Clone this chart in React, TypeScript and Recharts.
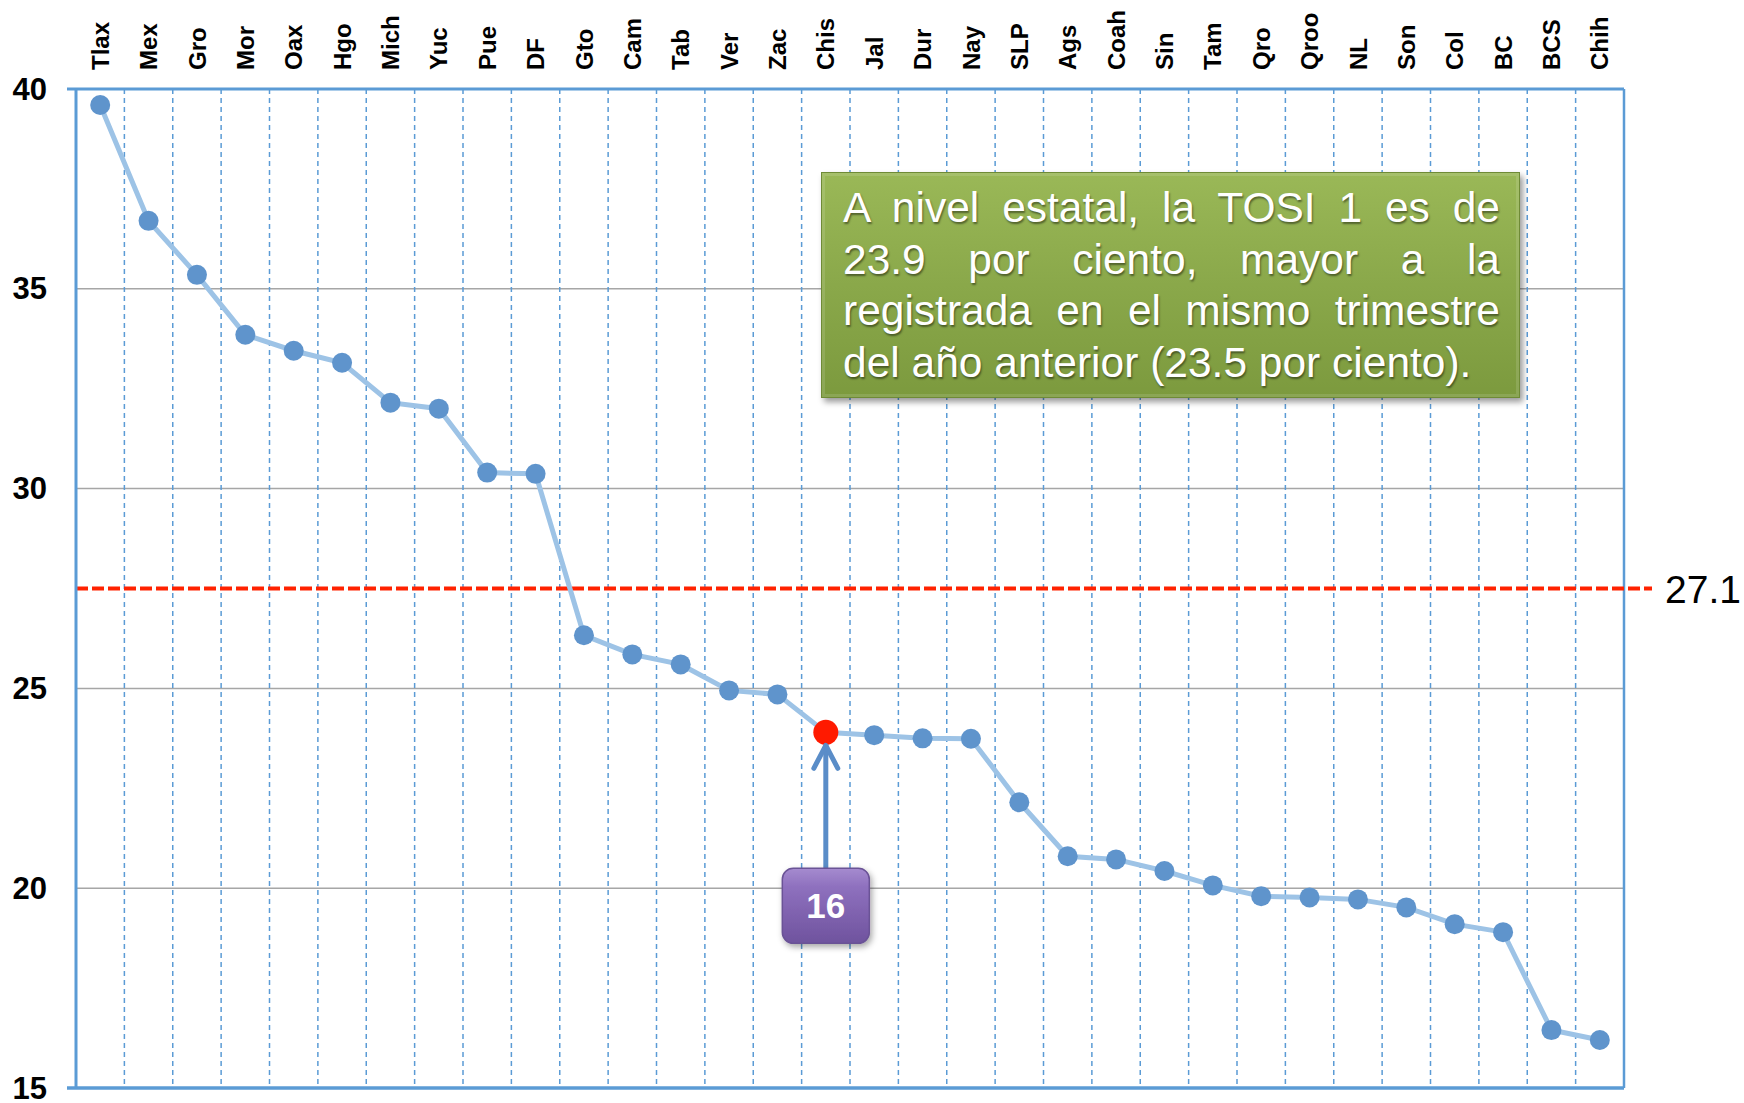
import React from 'react';
import { LineChart, Line, XAxis, YAxis, CartesianGrid, ReferenceLine, ReferenceDot } from 'recharts';

const states = ['Tlax','Mex','Gro','Mor','Oax','Hgo','Mich','Yuc','Pue','DF','Gto','Cam','Tab','Ver','Zac','Chis','Jal','Dur','Nay','SLP','Ags','Coah','Sin','Tam','Qro','Qroo','NL','Son','Col','BC','BCS','Chih'];
const tosiValues = [39.6,36.7,35.35,33.85,33.45,33.15,32.15,32.0,30.4,30.37,26.33,25.85,25.6,24.95,24.85,23.9,23.83,23.75,23.74,22.15,20.8,20.72,20.43,20.07,19.8,19.77,19.72,19.52,19.1,18.9,16.45,16.2];
const avgLineValue = 27.5;
const avgLabel = '27.1';
const yTicks = [15, 20, 25, 30, 35, 40];
const highlightState = 'Chis';
const rankLabel = '16';
const noteLines = [
  'A nivel estatal, la TOSI 1 es de',
  '23.9 por ciento, mayor a la',
  'registrada en el mismo trimestre',
  'del año anterior (23.5 por ciento).',
];

const chartData = states.map((name, i) => ({ pos: i + 0.5, name, value: tosiValues[i] }));
const boundaries = states.slice(1).map((_, i) => i + 1);
const highlight = chartData.find((d) => d.name === highlightState)!;

const BLUE = '#5B9BD5';
const FONT = '"Liberation Sans", Arial, sans-serif';

const XTick = (props: any) => {
  const { x, payload } = props;
  const label = states[Math.floor(payload.value)];
  return (
    <text
      x={0}
      y={0}
      transform={`translate(${x},70) rotate(-90)`}
      textAnchor="start"
      dy="0.36em"
      fontFamily={FONT}
      fontWeight="bold"
      fontSize={24}
      fill="#000"
    >
      {label}
    </text>
  );
};

const YTick = (props: any) => {
  const { y, payload } = props;
  return (
    <text
      x={47}
      y={y}
      dy="0.34em"
      textAnchor="end"
      fontFamily={'"Liberation Sans Narrow", "Liberation Sans", Arial, sans-serif'}
      fontWeight="bold"
      fontSize={31}
      fill="#000"
    >
      {payload.value}
    </text>
  );
};

const renderDot = (props: any) => {
  const { cx, cy, payload, index } = props;
  if (payload.name === highlightState) {
    return <circle key={`d${index}`} cx={cx} cy={cy} r={12.5} fill="#FF1A00" />;
  }
  return <circle key={`d${index}`} cx={cx} cy={cy} r={10} fill="#5F94CC" />;
};

const AnnotationShape = (props: any) => {
  const { cx, cy } = props;
  const boxTop = cy + 136;
  const boxW = 87;
  const boxH = 75;
  return (
    <g>
      <defs>
        <linearGradient id="purp" x1="0" y1="0" x2="0" y2="1">
          <stop offset="0%" stopColor="#A58BCF" />
          <stop offset="25%" stopColor="#8E70BE" />
          <stop offset="100%" stopColor="#6F539E" />
        </linearGradient>
        <filter id="shadowP" x="-30%" y="-30%" width="160%" height="160%">
          <feDropShadow dx="2" dy="3" stdDeviation="3" floodColor="#000" floodOpacity="0.35" />
        </filter>
      </defs>
      <line x1={cx} y1={boxTop} x2={cx} y2={cy + 12} stroke="#5A8DC8" strokeWidth={5} />
      <polyline
        points={`${cx - 12},${cy + 36} ${cx},${cy + 13} ${cx + 12},${cy + 36}`}
        fill="none"
        stroke="#5A8DC8"
        strokeWidth={5}
        strokeLinecap="round"
        strokeLinejoin="round"
      />
      <rect
        x={cx - boxW / 2}
        y={boxTop}
        width={boxW}
        height={boxH}
        rx={11}
        fill="url(#purp)"
        stroke="#6A5296"
        strokeWidth={1.5}
        filter="url(#shadowP)"
      />
      <text
        x={cx}
        y={boxTop + boxH / 2}
        dy="0.36em"
        textAnchor="middle"
        fontFamily={FONT}
        fontWeight="bold"
        fontSize={35}
        fill="#fff"
      >
        {rankLabel}
      </text>
    </g>
  );
};

const AvgLineShape = (props: any) => {
  const { x1, y1, x2 } = props;
  return (
    <g>
      <line x1={x1} y1={y1} x2={x2 + 28} y2={y1} stroke="#FF2200" strokeWidth={4} strokeDasharray="12 4" />
      <text x={x2 + 41} y={y1} dy="0.36em" fontFamily={FONT} fontSize={39} fill="#000">
        {avgLabel}
      </text>
    </g>
  );
};

const FrameLine = (ext: number, w: number) => (props: any) => {
  const { x1, y1, x2, y2 } = props;
  return <line x1={x1 - ext} y1={y1} x2={x2} y2={y2} stroke={BLUE} strokeWidth={w} />;
};

export default function App() {
  return (
    <div style={{ position: 'absolute', left: 0, top: 0, width: 1744, height: 1103, background: '#fff' }}>
      <LineChart
        width={1744}
        height={1103}
        data={chartData}
        margin={{ top: 0, right: 120, bottom: 15, left: 0 }}
      >
        <CartesianGrid vertical={false} stroke="#A6A6A6" strokeWidth={1.5} />
        <XAxis
          dataKey="pos"
          type="number"
          orientation="top"
          domain={[0, states.length]}
          ticks={chartData.map((d) => d.pos)}
          interval={0}
          height={89}
          axisLine={false}
          tickLine={false}
          tick={<XTick />}
        />
        <YAxis
          type="number"
          domain={[15, 40]}
          ticks={yTicks}
          width={76}
          axisLine={{ stroke: BLUE, strokeWidth: 3 }}
          tickLine={false}
          tick={<YTick />}
        />
        {boundaries.map((b) => (
          <ReferenceLine key={b} x={b} stroke={BLUE} strokeWidth={1.5} strokeDasharray="5 4" />
        ))}
        <ReferenceLine y={40} shape={FrameLine(9, 3)} />
        <ReferenceLine y={15} shape={FrameLine(9, 3.5)} />
        <ReferenceLine x={states.length} stroke={BLUE} strokeWidth={2.5} />
        <ReferenceLine y={avgLineValue} shape={AvgLineShape} ifOverflow="visible" />
        <Line
          dataKey="value"
          stroke="#9DC3E6"
          strokeWidth={5}
          dot={renderDot}
          activeDot={false}
          isAnimationActive={false}
        />
        <ReferenceDot x={highlight.pos} y={highlight.value} r={0} shape={AnnotationShape} ifOverflow="visible" />
      </LineChart>
      <div
        style={{
          position: 'absolute',
          left: 821,
          top: 172,
          width: 699,
          height: 226,
          boxSizing: 'border-box',
          padding: '9px 19px 0 21px',
          background: 'linear-gradient(180deg, #9AB857 0%, #8AA84A 50%, #7C9A3E 100%)',
          border: '1.5px solid #6F8B36',
          boxShadow: '3px 4px 6px rgba(0,0,0,0.4), inset 0 0 0 3px rgba(255,255,255,0.12)',
          fontFamily: FONT,
          fontSize: 42.5,
          lineHeight: '51.5px',
          color: '#fff',
          textShadow: '1px 2px 2px rgba(0,0,0,0.45)',
        }}
      >
        {noteLines.map((l, i) => (
          <div
            key={i}
            style={{
              textAlign: i < noteLines.length - 1 ? 'justify' : 'left',
              textAlignLast: i < noteLines.length - 1 ? 'justify' : 'left',
              whiteSpace: 'nowrap',
            } as React.CSSProperties}
          >
            {l}
          </div>
        ))}
      </div>
    </div>
  );
}
